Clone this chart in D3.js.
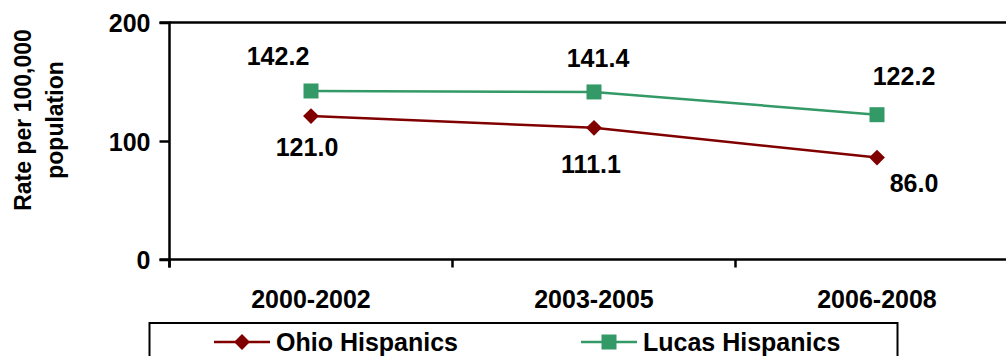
<!DOCTYPE html>
<html><head><meta charset="utf-8">
<script src="https://cdn.jsdelivr.net/npm/d3@7"></script>
<style>
body{margin:0;background:#fff;}
svg{display:block;}
text{font-family:Arial,"Liberation Sans",sans-serif;font-weight:bold;fill:#000;}
</style></head>
<body>
<svg id="chart" width="1006" height="356"></svg>
<script>
const categories = ["2000-2002", "2003-2005", "2006-2008"];
const ohioValues = [121.0, 111.1, 86.0];
const lucasValues = [142.2, 141.4, 122.2];
const yTicks = [0, 100, 200];
const seriesNames = ["Ohio Hispanics", "Lucas Hispanics"];
const yTitleLines = ["Rate per 100,000", "population"];

const svg = d3.select("#chart");
const x0 = 169.5, step = 283;
const x = d3.scaleBand().domain(categories).range([x0, x0 + step * 3]).paddingInner(0).paddingOuter(0);
const y = d3.scaleLinear().domain([0, 200]).range([259.5, 22.5]);
const cx = c => x(c) + x.bandwidth() / 2;

const red = "#800000", green = "#339966";
const fs = "25px";

// top border line
svg.append("line").attr("x1", x0).attr("x2", 1006).attr("y1", y(200)).attr("y2", y(200))
  .attr("stroke", "#000").attr("stroke-width", 2.5);

// y axis
const yAxis = svg.append("g").attr("transform", `translate(${x0},0)`)
  .call(d3.axisLeft(y).tickValues(yTicks).tickSize(10).tickPadding(9).tickFormat(d3.format("d")));
yAxis.select(".domain").attr("stroke-width", 2.5).attr("d", `M-10,${y(200)}H0V${y(0) + 8}`);
yAxis.selectAll(".tick line").attr("stroke-width", 2.5);
yAxis.selectAll(".tick text").style("font-size", fs).attr("dy", "0.36em");

// x axis
const xAxis = svg.append("g").attr("transform", `translate(0,${y(0)})`)
  .call(d3.axisBottom(x).tickSize(0).tickPadding(0));
xAxis.select(".domain").attr("stroke-width", 2.5).attr("d", `M${x0 - 10},0H1006`);
xAxis.selectAll(".tick text").style("font-size", fs).attr("y", 48).attr("dy", 0);
// category boundary ticks
xAxis.selectAll(".bt").data(categories).join("line").attr("class", "bt")
  .attr("x1", d => x(d)).attr("x2", d => x(d)).attr("y1", 0).attr("y2", 8)
  .attr("stroke", "#000").attr("stroke-width", 2.5);

// y title
const yt = svg.append("text").attr("transform", "translate(0,120) rotate(-90)")
  .attr("text-anchor", "middle").style("font-size", "23px");
yt.append("tspan").attr("x", 0).attr("y", 31).text(yTitleLines[0]);
yt.append("tspan").attr("x", 0).attr("y", 63).text(yTitleLines[1]);

// lines
const line = d3.line().x((d, i) => cx(categories[i])).y(d => y(d));
svg.append("path").datum(lucasValues).attr("d", line).attr("fill", "none").attr("stroke", green).attr("stroke-width", 2.5);
svg.append("path").datum(ohioValues).attr("d", line).attr("fill", "none").attr("stroke", red).attr("stroke-width", 2.5);

const sq = d3.symbol().type(d3.symbolSquare).size(225);
const dia = d3.symbol().type(d3.symbolDiamond2).size(160);
svg.selectAll(".sq").data(lucasValues).join("path").attr("class", "sq")
  .attr("d", sq).attr("fill", green)
  .attr("transform", (d, i) => `translate(${cx(categories[i])},${y(d)})`);
svg.selectAll(".di").data(ohioValues).join("path").attr("class", "di")
  .attr("d", dia).attr("fill", red)
  .attr("transform", (d, i) => `translate(${cx(categories[i])},${y(d)})`);

// data labels (offsets relative to point)
const lucasOff = [[-33, -26], [4, -25], [27, -30]];
const ohioOff = [[-4, 40], [-3, 45], [37, 34]];
svg.selectAll(".ll").data(lucasValues).join("text").attr("class", "ll")
  .attr("text-anchor", "middle").style("font-size", fs)
  .attr("x", (d, i) => cx(categories[i]) + lucasOff[i][0])
  .attr("y", (d, i) => y(d) + lucasOff[i][1])
  .text(d => d.toFixed(1));
svg.selectAll(".ol").data(ohioValues).join("text").attr("class", "ol")
  .attr("text-anchor", "middle").style("font-size", fs)
  .attr("x", (d, i) => cx(categories[i]) + ohioOff[i][0])
  .attr("y", (d, i) => y(d) + ohioOff[i][1])
  .text(d => d.toFixed(1));

// legend
const lg = svg.append("g");
lg.append("rect").attr("x", 149.5).attr("y", 323).attr("width", 748).attr("height", 60)
  .attr("fill", "none").attr("stroke", "#000").attr("stroke-width", 2);
const items = [{name: seriesNames[0], color: red, sym: dia, x: 214}, {name: seriesNames[1], color: green, sym: sq, x: 581}];
items.forEach(it => {
  lg.append("line").attr("x1", it.x).attr("x2", it.x + 56).attr("y1", 342).attr("y2", 342)
    .attr("stroke", it.color).attr("stroke-width", 2.5);
  lg.append("path").attr("d", it.sym).attr("fill", it.color).attr("transform", `translate(${it.x + 28},342)`);
  lg.append("text").attr("x", it.x + 62).attr("y", 351).style("font-size", fs).text(it.name);
});
</script>
</body></html>
